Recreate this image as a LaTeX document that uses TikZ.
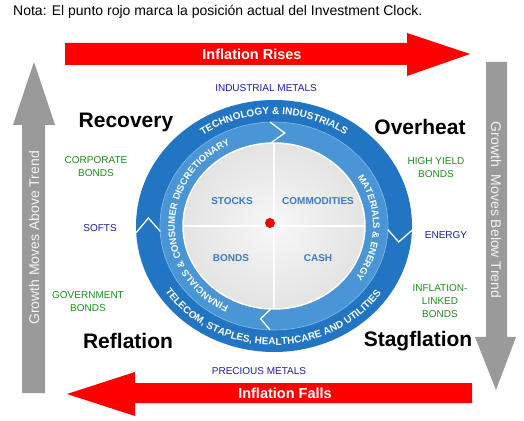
\documentclass[tikz,border=0pt]{standalone}
\usepackage{fontspec}
\setmainfont{Liberation Sans}
\setsansfont{Liberation Sans}
\usetikzlibrary{decorations.text}
\definecolor{ringdark}{HTML}{2175C2}
\definecolor{ringlight}{HTML}{4A95D5}
\definecolor{quadtxt}{HTML}{3A7DBE}
\definecolor{metalblue}{HTML}{1C1CA8}
\definecolor{bondgreen}{HTML}{1E8C1E}
\definecolor{arrowgray}{HTML}{9A9A9A}
\definecolor{arrowred}{HTML}{FF0000}
\begin{document}
\begin{tikzpicture}[x=1pt,y=1pt,
  phase/.style={font=\fontsize{21}{21}\selectfont\bfseries, text=black},
  metal/.style={font=\fontsize{10}{13}\selectfont, text=metalblue, align=center},
  bondlbl/.style={font=\fontsize{10}{13}\selectfont, text=bondgreen, align=center},
  quad/.style={font=\fontsize{10}{10}\selectfont\bfseries, text=quadtxt},
  chevron/.style={draw=white, line width=1.3pt, line join=miter},
  redarrow/.style={fill=arrowred},
  grayarrow/.style={fill=arrowgray},
  arrowlbl/.style={font=\fontsize{14.5}{14.5}\selectfont\bfseries, text=white},
  trendlbl/.style={font=\fontsize{14}{14}\selectfont, text=white!92!gray},
  ringtxt/.style={decorate, decoration={text along path, text align=center, text={#1}}},
]
\useasboundingbox (0,0) rectangle (524,420);

% note
\node[anchor=west, font=\fontsize{14}{14}\selectfont, inner sep=0pt] (note) at (13,408)
  {Nota: El punto rojo marca la posición actual del Investment Clock.};

% red arrows
\fill[redarrow] (65,377) -- (407,377) -- (407,387) -- (470,366) -- (407,344) -- (407,355) -- (65,355) -- cycle;
\node[arrowlbl] (rises) at (252,366) {Inflation Rises};
\fill[redarrow] (472,37) -- (135,37) -- (135,48) -- (67,26) -- (135,4) -- (135,17) -- (472,17) -- cycle;
\node[arrowlbl] (falls) at (285,27) {Inflation Falls};

% gray arrows
\fill[grayarrow] (22,27) -- (22,295) -- (13,295) -- (34,358) -- (55,295) -- (45,295) -- (45,27) -- cycle;
\node[trendlbl, rotate=90] (above) at (34,182) {Growth Moves Above Trend};
\fill[grayarrow] (486,358) -- (507,358) -- (507,83) -- (516,83) -- (496,30) -- (475,83) -- (486,83) -- cycle;
\node[trendlbl, rotate=-90] (below) at (496,210) {Growth\ \ Moves Below Trend};

% clock
\coordinate (C) at (274,194);
\fill[ringdark] (C) ellipse [x radius=138, y radius=126];
\filldraw[fill=ringlight, draw=ringlight!70!white, line width=0.7pt] (C) ellipse [x radius=114, y radius=104];
\shade[inner color=gray!6, outer color=gray!22] (C) ellipse [x radius=91, y radius=83];
\draw[white, line width=1.5pt] (C) ellipse [x radius=91, y radius=83];
\draw[white, line width=2pt] ([xshift=-91]C) -- ([xshift=91]C);
\draw[white, line width=2pt] ([yshift=-83]C) -- ([yshift=83]C);

% chevrons
\draw[chevron] (270.0,297.9) -- (284.7,287.0) -- (270.8,277.0);
\draw[chevron] (387.8,190.4) -- (398.7,178.0) -- (411.9,189.6);
\draw[chevron] (160.3,188.6) -- (148.4,202.0) -- (136.2,187.4);
\draw[chevron] (270.0,90.1) -- (260.6,101.3) -- (270.8,111.0);

% ring texts
\path[ringtxt={|\color{white}\fontsize{10}{10}\selectfont\bfseries|TECHNOLOGY {\&} INDUSTRIALS}]
  ([shift={(140:122 and 111.5)}]C) arc[start angle=140, end angle=40, x radius=122, y radius=111.5];
\path[ringtxt={|\color{white}\fontsize{10}{10}\selectfont\bfseries|TELECOM, STAPLES, HEALTHCARE AND UTILITIES}]
  ([shift={(200:130.3 and 119)}]C) arc[start angle=200, end angle=339, x radius=130.3, y radius=119];
\path[ringtxt={|\color{white}\fontsize{9.5}{9.5}\selectfont\bfseries|FINANCIALS {\&} CONSUMER DISCRETIONARY}]
  ([shift={(255:99.1 and 90.5)}]C) arc[start angle=255, end angle=104, x radius=99.1, y radius=90.5];
\path[ringtxt={|\color{white}\fontsize{9.5}{9.5}\selectfont\bfseries|MATERIALS {\&} ENERGY}]
  ([shift={(45:99.1 and 90.5)}]C) arc[start angle=45, end angle=-47, x radius=99.1, y radius=90.5];

% quadrant labels
\node[quad] (stocks) at (232,219) {STOCKS};
\node[quad] (commod) at (318,219) {COMMODITIES};
\node[quad] (bonds) at (231,162) {BONDS};
\node[quad] (cash) at (318,162) {CASH};

% red dot
\fill[arrowred] (270,197) circle [radius=5];

% phases
\node[phase] (recovery) at (126,298) {Recovery};
\node[phase] (overheat) at (420,293) {Overheat};
\node[phase] (reflation) at (128,79) {Reflation};
\node[phase] (stagflation) at (418,79) {Stagflation};

% asset labels
\node[metal] (indmet) at (266,332) {INDUSTRIAL METALS};
\node[metal] (premet) at (259,49) {PRECIOUS METALS};
\node[metal] (softs) at (100,192) {SOFTS};
\node[metal] (energy) at (446,185) {ENERGY};
\node[bondlbl] (corp) at (96,253) {CORPORATE\\BONDS};
\node[bondlbl] (hy) at (436,252) {HIGH YIELD\\BONDS};
\node[bondlbl] (gov) at (88,118) {GOVERNMENT\\BONDS};
\node[bondlbl] (ilb) at (440,119) {INFLATION-\\LINKED\\BONDS};
\end{tikzpicture}
\end{document}
